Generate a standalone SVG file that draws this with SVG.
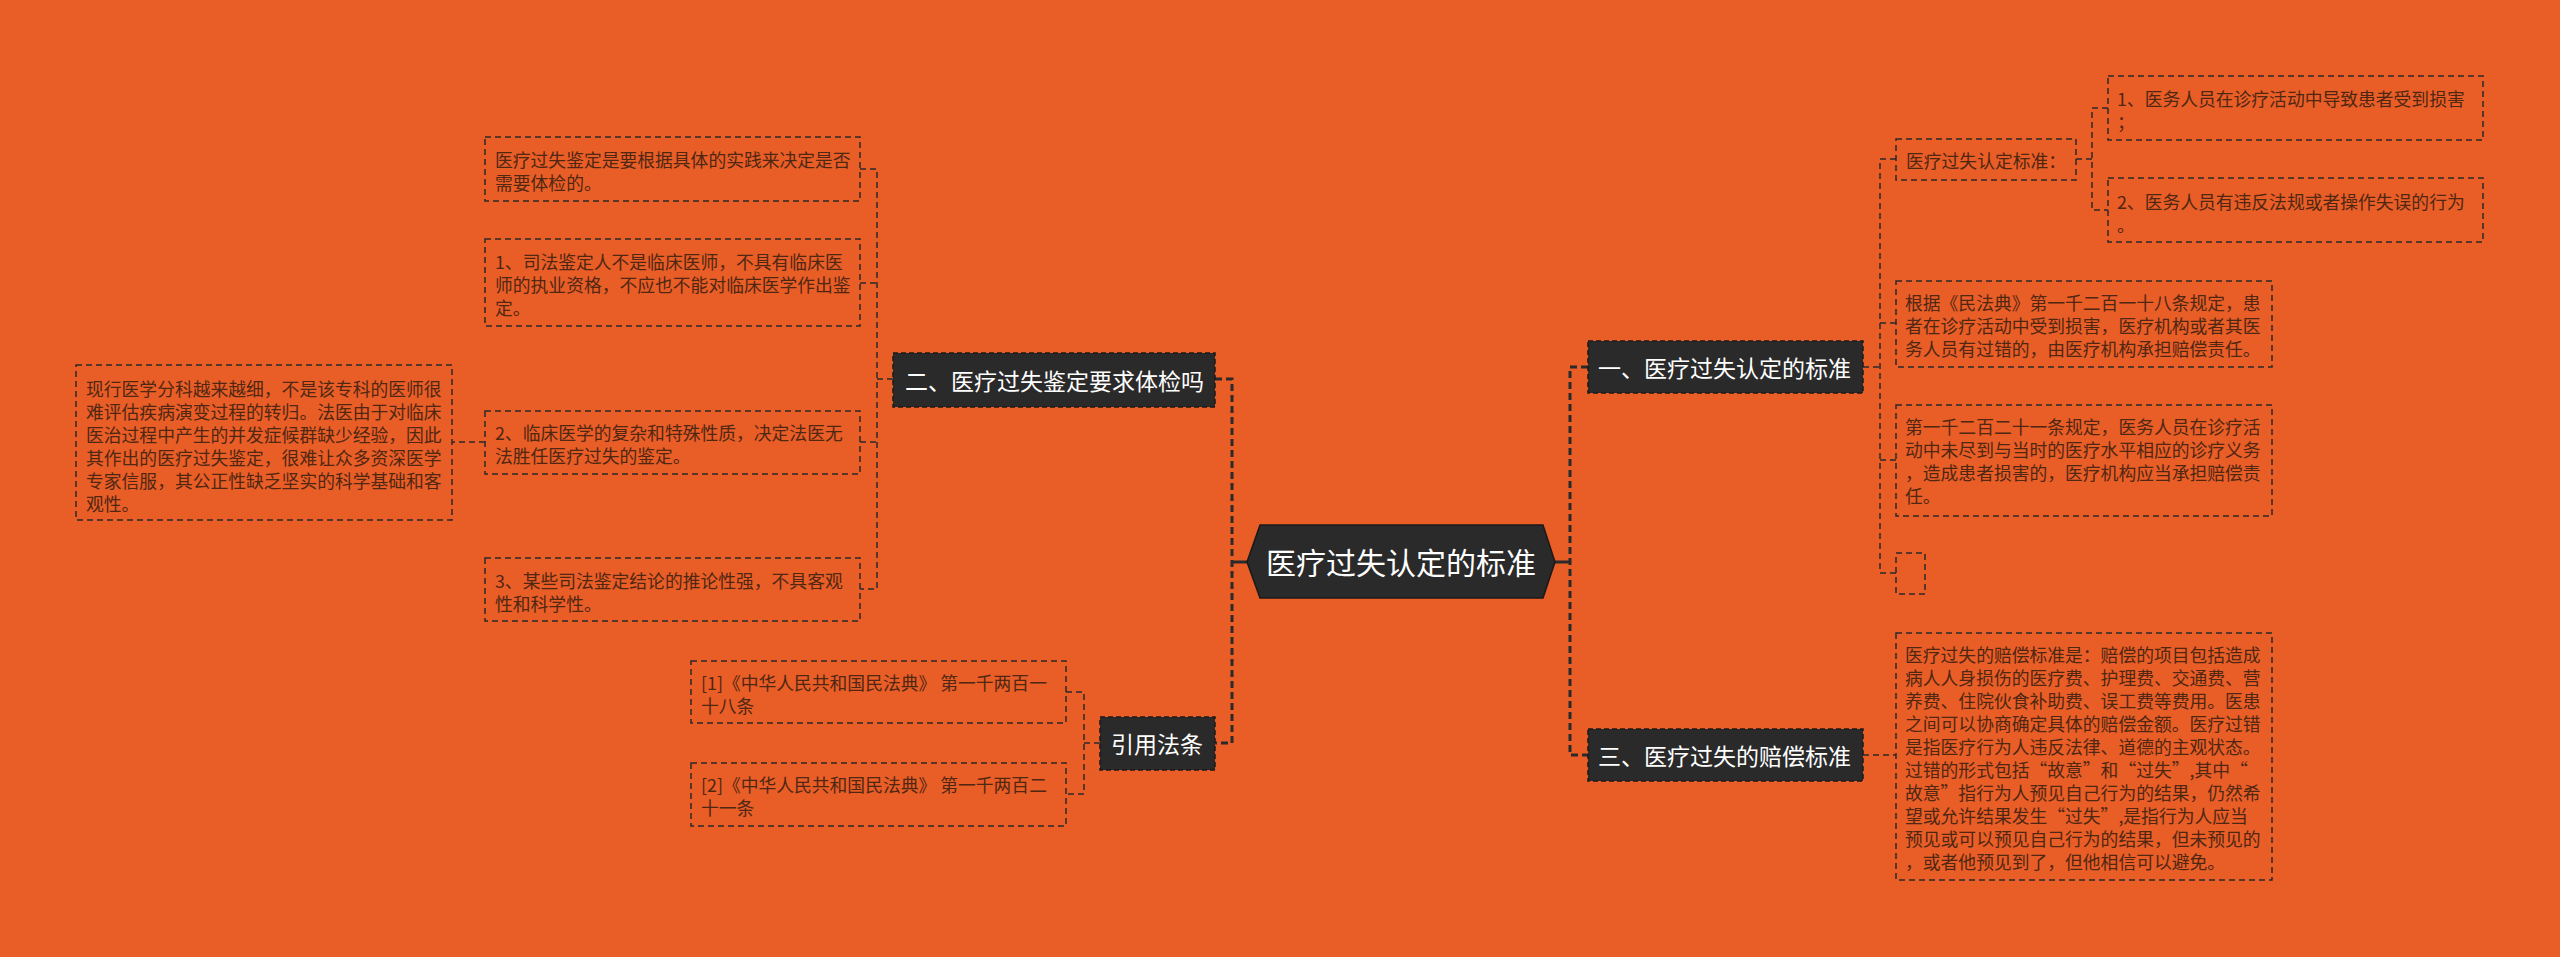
<svg xmlns="http://www.w3.org/2000/svg" width="2560" height="957" viewBox="0 0 2560 957">
<style>
.bg{fill:#E95D27}
.box{fill:none;stroke:#2a2a2a;stroke-width:1.5;stroke-dasharray:6 4}
.t{font-family:"Noto Sans CJK SC","Noto Sans",sans-serif;font-size:17.8px;fill:#4f2712;dominant-baseline:central}
.node{fill:#2a2a2a;stroke:#1a1a1a;stroke-width:1.5;stroke-dasharray:5 3}
.nt{font-family:"Noto Sans CJK SC","Noto Sans",sans-serif;font-size:23px;fill:#ffffff;dominant-baseline:central}
.ct{font-family:"Noto Sans CJK SC","Noto Sans",sans-serif;font-size:30px;fill:#ffffff;dominant-baseline:central;text-anchor:middle}
.c{fill:none;stroke:#2a2a2a;stroke-width:1.5;stroke-dasharray:6 4}
.cm{fill:none;stroke:#2a2a2a;stroke-width:3;stroke-dasharray:7 4}
.cs{fill:none;stroke:#2a2a2a;stroke-width:3}
</style>
<rect class="bg" x="0" y="0" width="2560" height="957"/>

<g id="connectors">
  <!-- center to trunks -->
  <path class="cs" d="M1247 562 H1232"/>
  <path class="cs" d="M1555 562 H1570"/>
  <path class="cm" d="M1215 379 H1232 V743 H1215"/>
  <path class="cm" d="M1588 367 H1570 V755 H1588"/>
  <!-- node 二 children -->
  <path class="c" d="M893 379 H877"/>
  <path class="c" d="M860 169 H877 V589 H860"/>
  <path class="c" d="M860 283 H877"/>
  <path class="c" d="M860 442 H877"/>
  <path class="c" d="M485 442 H452"/>
  <!-- 引用法条 children -->
  <path class="c" d="M1100 743 H1084"/>
  <path class="c" d="M1066 692 H1084 V794 H1066"/>
  <!-- node 一 children -->
  <path class="c" d="M1863 367 H1880"/>
  <path class="c" d="M1896 159 H1880 V573 H1896"/>
  <path class="c" d="M1880 323 H1896"/>
  <path class="c" d="M1880 460 H1896"/>
  <path class="c" d="M2076 159 H2092"/>
  <path class="c" d="M2108 108 H2092 V210 H2108"/>
  <!-- node 三 child -->
  <path class="c" d="M1863 755 H1896"/>
</g>

<g id="center">
  <polygon fill="#2a2a2a" stroke="#1a1a1a" stroke-width="1.5" points="1247,562 1260,525 1543,525 1555,562 1543,598 1260,598"/>
  <text class="ct" x="1401" y="561">医疗过失认定的标准</text>
</g>

<g id="n-er">
  <rect class="node" x="893" y="353" width="322" height="54"/>
  <text class="nt" x="905" y="380">二、医疗过失鉴定要求体检吗</text>
</g>
<g id="n-yinyong">
  <rect class="node" x="1100" y="717" width="115" height="53"/>
  <text class="nt" x="1111" y="743">引用法条</text>
</g>
<g id="n-yi">
  <rect class="node" x="1588" y="341" width="275" height="52"/>
  <text class="nt" x="1598" y="367">一、医疗过失认定的标准</text>
</g>
<g id="n-san">
  <rect class="node" x="1588" y="729" width="275" height="52"/>
  <text class="nt" x="1598" y="755">三、医疗过失的赔偿标准</text>
</g>

<g id="er-a">
  <rect class="box" x="485" y="137" width="375" height="64"/>
  <text class="t" x="495" y="159">医疗过失鉴定是要根据具体的实践来决定是否</text>
  <text class="t" x="495" y="182">需要体检的。</text>
</g>
<g id="er-b">
  <rect class="box" x="485" y="239" width="375" height="87"/>
  <text class="t" x="495" y="261">1、司法鉴定人不是临床医师，不具有临床医</text>
  <text class="t" x="495" y="284">师的执业资格，不应也不能对临床医学作出鉴</text>
  <text class="t" x="495" y="307">定。</text>
</g>
<g id="er-c">
  <rect class="box" x="485" y="411" width="375" height="63"/>
  <text class="t" x="495" y="432">2、临床医学的复杂和特殊性质，决定法医无</text>
  <text class="t" x="495" y="455">法胜任医疗过失的鉴定。</text>
</g>
<g id="er-c-detail">
  <rect class="box" x="76" y="365" width="376" height="155"/>
  <text class="t" x="86" y="388">现行医学分科越来越细，不是该专科的医师很</text>
  <text class="t" x="86" y="411">难评估疾病演变过程的转归。法医由于对临床</text>
  <text class="t" x="86" y="434">医治过程中产生的并发症候群缺少经验，因此</text>
  <text class="t" x="86" y="457">其作出的医疗过失鉴定，很难让众多资深医学</text>
  <text class="t" x="86" y="480">专家信服，其公正性缺乏坚实的科学基础和客</text>
  <text class="t" x="86" y="503">观性。</text>
</g>
<g id="er-d">
  <rect class="box" x="485" y="558" width="375" height="63"/>
  <text class="t" x="495" y="580">3、某些司法鉴定结论的推论性强，不具客观</text>
  <text class="t" x="495" y="603">性和科学性。</text>
</g>

<g id="law-1">
  <rect class="box" x="691" y="661" width="375" height="62"/>
  <text class="t" x="701" y="682">[1]《中华人民共和国民法典》 第一千两百一</text>
  <text class="t" x="701" y="705">十八条</text>
</g>
<g id="law-2">
  <rect class="box" x="691" y="763" width="375" height="63"/>
  <text class="t" x="701" y="784">[2]《中华人民共和国民法典》 第一千两百二</text>
  <text class="t" x="701" y="807">十一条</text>
</g>

<g id="yi-std">
  <rect class="box" x="1896" y="139" width="180" height="41"/>
  <text class="t" x="1906" y="160">医疗过失认定标准：</text>
</g>
<g id="yi-std-1">
  <rect class="box" x="2108" y="76" width="375" height="64"/>
  <text class="t" x="2117" y="98">1、医务人员在诊疗活动中导致患者受到损害</text>
  <text class="t" x="2117" y="121">；</text>
</g>
<g id="yi-std-2">
  <rect class="box" x="2108" y="178" width="375" height="64"/>
  <text class="t" x="2117" y="201">2、医务人员有违反法规或者操作失误的行为</text>
  <text class="t" x="2117" y="224">。</text>
</g>
<g id="yi-b">
  <rect class="box" x="1896" y="281" width="376" height="86"/>
  <text class="t" x="1905" y="302">根据《民法典》第一千二百一十八条规定，患</text>
  <text class="t" x="1905" y="325">者在诊疗活动中受到损害，医疗机构或者其医</text>
  <text class="t" x="1905" y="348">务人员有过错的，由医疗机构承担赔偿责任。</text>
</g>
<g id="yi-c">
  <rect class="box" x="1896" y="405" width="376" height="111"/>
  <text class="t" x="1905" y="426">第一千二百二十一条规定，医务人员在诊疗活</text>
  <text class="t" x="1905" y="449">动中未尽到与当时的医疗水平相应的诊疗义务</text>
  <text class="t" x="1905" y="472">，造成患者损害的，医疗机构应当承担赔偿责</text>
  <text class="t" x="1905" y="495">任。</text>
</g>
<g id="yi-d">
  <rect class="box" x="1896" y="553" width="29" height="41"/>
</g>

<g id="san-a">
  <rect class="box" x="1896" y="633" width="376" height="247"/>
  <text class="t" x="1905" y="654">医疗过失的赔偿标准是：赔偿的项目包括造成</text>
  <text class="t" x="1905" y="677">病人人身损伤的医疗费、护理费、交通费、营</text>
  <text class="t" x="1905" y="700">养费、住院伙食补助费、误工费等费用。医患</text>
  <text class="t" x="1905" y="723">之间可以协商确定具体的赔偿金额。医疗过错</text>
  <text class="t" x="1905" y="746">是指医疗行为人违反法律、道德的主观状态。</text>
  <text class="t" x="1905" y="769">过错的形式包括“故意”和“过失”,其中“</text>
  <text class="t" x="1905" y="792">故意”指行为人预见自己行为的结果，仍然希</text>
  <text class="t" x="1905" y="815">望或允许结果发生“过失”,是指行为人应当</text>
  <text class="t" x="1905" y="838">预见或可以预见自己行为的结果，但未预见的</text>
  <text class="t" x="1905" y="861">，或者他预见到了，但他相信可以避免。</text>
</g>
</svg>
